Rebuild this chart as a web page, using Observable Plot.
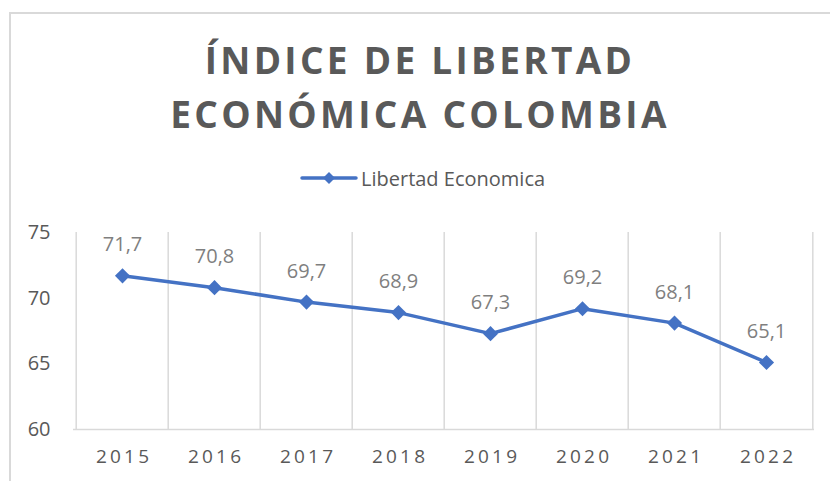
<!DOCTYPE html>
<html>
<head>
<meta charset="utf-8">
<script src="https://cdn.jsdelivr.net/npm/d3@7"></script>
<script src="https://cdn.jsdelivr.net/npm/@observablehq/plot@0.6"></script>
<style>
  html, body { margin: 0; padding: 0; background: #fff; }
  #page { position: relative; width: 830px; height: 481px; overflow: hidden; background: #fff; font-family: "Open Sans", sans-serif; }
  #frameTop { position: absolute; left: 9px; top: 12px; width: 830px; height: 2px; background: #d9d9d9; }
  #frameLeft { position: absolute; left: 9px; top: 12px; width: 2px; height: 481px; background: #d9d9d9; }
  #title { position: absolute; left: 0; width: 840px; top: 33px; text-align: center; font-weight: 700; font-size: 37px; line-height: 54px; letter-spacing: 3.3px; color: #595959; }
  #legend { position: absolute; left: 300px; top: 163px; height: 30px; display: flex; align-items: center; color: #595959; font-size: 20px; }
  #plot { position: absolute; left: 0; top: 200px; }
  #plot svg { background: none !important; }
  #plot g[aria-label="x-axis tick label"] text { letter-spacing: 3.2px; }
</style>
</head>
<body>
<div id="page">
  <div id="frameTop"></div>
  <div id="frameLeft"></div>
  <div id="title"></div>
  <div id="legend"></div>
  <div id="plot"></div>
</div>
<script>
const titleLines = ["ÍNDICE DE LIBERTAD", "ECONÓMICA COLOMBIA"];
const seriesName = "Libertad Economica";
const years = ["2015", "2016", "2017", "2018", "2019", "2020", "2021", "2022"];
const values = [71.7, 70.8, 69.7, 68.9, 67.3, 69.2, 68.1, 65.1];
const yTicks = [60, 65, 70, 75];

const blue = "#4472c4";
const data = years.map((y, i) => ({ year: y, value: values[i] }));

document.getElementById("title").innerHTML = titleLines.join("<br>");
document.getElementById("legend").innerHTML =
  `<svg width="58" height="16" style="margin-right:3px"><line x1="2" y1="8" x2="56" y2="8" stroke="${blue}" stroke-width="3.5" stroke-linecap="round"/><path d="M29,2 L35,8 L29,14 L23,8 Z" fill="${blue}"/></svg><span>${seriesName}</span>`;

const W = 830, H = 281, mL = 73, mR = 16, mT = 32, mB = 52;
const bw = (W - mL - mR) / years.length;

const chart = Plot.plot({
  width: W,
  height: H,
  marginLeft: mL,
  marginRight: mR,
  marginTop: mT,
  marginBottom: mB,
  style: { fontFamily: "Open Sans, sans-serif", background: "none", overflow: "visible" },
  x: { type: "band", domain: years, padding: 0, label: null },
  y: { domain: [60, 75], label: null },
  marks: [
    Plot.ruleX(years, { x: d => d, dx: -bw / 2, y1: 60, y2: 75, stroke: "#d9d9d9", strokeWidth: 1.5 }),
    Plot.ruleX(years.slice(-1), { x: d => d, dx: bw / 2, y1: 60, y2: 75, stroke: "#d9d9d9", strokeWidth: 1.5 }),
    Plot.ruleY([60], { stroke: "#d9d9d9", strokeWidth: 1.5 }),
    Plot.axisY({ ticks: yTicks, tickSize: 0, tickPadding: 23, fontSize: 20, fill: "#595959", label: null }),
    Plot.axisX({ tickSize: 0, tickPadding: 20, dx: 1.6, fontSize: 19, fill: "#595959", label: null }),
    Plot.line(data, { x: "year", y: "value", stroke: blue, strokeWidth: 3.5, strokeLinejoin: "round" }),
    Plot.dot(data, { x: "year", y: "value", symbol: "diamond2", r: 6.8, fill: blue, stroke: "none" }),
    Plot.text(data, { x: "year", y: "value", text: d => d.value.toFixed(1).replace(".", ","), dy: -31, fontSize: 20, fill: "#7f7f7f" })
  ]
});
document.getElementById("plot").appendChild(chart);
</script>
</body>
</html>
